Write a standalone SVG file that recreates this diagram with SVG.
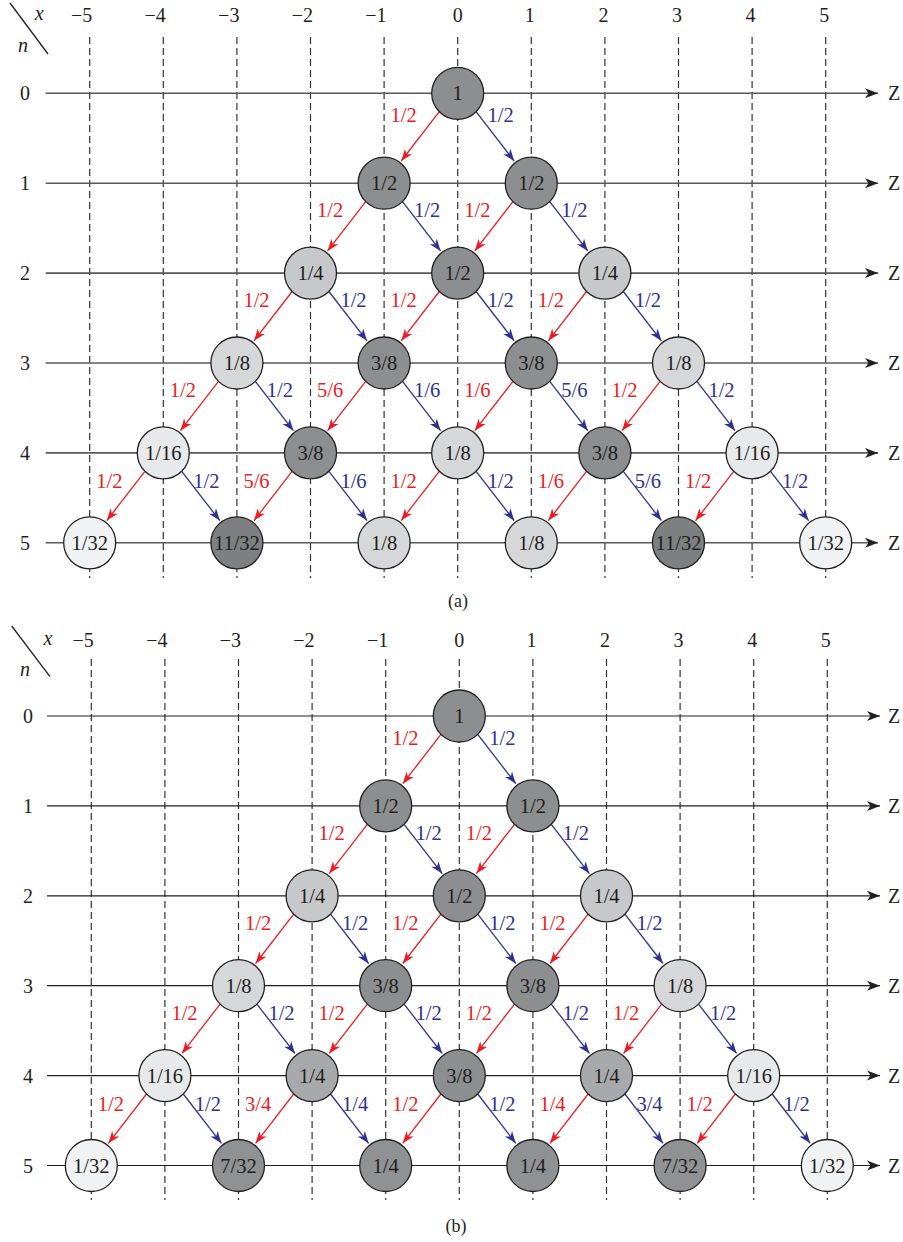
<svg xmlns="http://www.w3.org/2000/svg" xmlns:xlink="http://www.w3.org/1999/xlink" width="903" height="1242" viewBox="0 0 903 1242">
<defs>
<style>
text{font-family:"Liberation Serif","Times New Roman",serif;font-size:20.5px;fill:#231f20}
.ax{font-size:20px}
.ha{stroke:#58595b;stroke-width:1.6;marker-end:url(#mk)}
.hb{stroke:#231f20;stroke-width:1.2;marker-end:url(#mk)}
.dash{stroke:#333;stroke-width:1.2;stroke-dasharray:7 4}
.er{stroke:#ed1c24;stroke-width:1.3;marker-end:url(#mr)}
.eb{stroke:#2e3192;stroke-width:1.3;marker-end:url(#mb)}
.lr{fill:#ed1c24;text-anchor:middle}
.lb{fill:#2e3192;text-anchor:middle}
.m{text-anchor:middle}
.e{text-anchor:end}
.it{font-style:italic}
circle{stroke:#231f20;stroke-width:1.3}
.dk{fill:#8c8e90}.dk2{fill:#7d7f81}.dk3{fill:#8f9193}.md{fill:#a7a9ab}
.l1{fill:#c7c8ca}.l2{fill:#d6d7d8}.l3{fill:#e8e9ea}.l4{fill:#f1f2f3}
</style>
<marker id="mr" markerUnits="userSpaceOnUse" orient="auto" overflow="visible" markerWidth="1" markerHeight="1"><path d="M0,0 L-12,-4.5 L-8.5,0 L-12,4.5 z" fill="#ed1c24"/></marker>
<marker id="mb" markerUnits="userSpaceOnUse" orient="auto" overflow="visible" markerWidth="1" markerHeight="1"><path d="M0,0 L-12,-4.5 L-8.5,0 L-12,4.5 z" fill="#2e3192"/></marker>
<marker id="mk" markerUnits="userSpaceOnUse" orient="auto" overflow="visible" markerWidth="1" markerHeight="1"><path d="M0,0 L-13,-5 L-9.5,0 L-13,5 z" fill="#231f20"/></marker>
</defs>
<rect width="903" height="1242" fill="#fff"/>

<!-- ================= PANEL A ================= -->
<g id="panel-a" transform="translate(457.7,93.3)">
<g id="a-axes">
<line x1="-447.7" y1="-90.3" x2="-409.7" y2="-39.3" stroke="#231f20" stroke-width="1.3"/>
<text class="it m ax" x="-418.4" y="-73.8">x</text>
<text class="it m ax" x="-434.7" y="-41.8">n</text>
<text class="e ax" x="-365.5" y="-71.8">−5</text>
<text class="e ax" x="-291.9" y="-71.8">−4</text>
<text class="e ax" x="-218.3" y="-71.8">−3</text>
<text class="e ax" x="-144.7" y="-71.8">−2</text>
<text class="e ax" x="-71.1" y="-71.8">−1</text>
<text class="m ax" x="0" y="-71.8">0</text>
<text class="m ax" x="72.1" y="-71.8">1</text>
<text class="m ax" x="145.7" y="-71.8">2</text>
<text class="m ax" x="219.3" y="-71.8">3</text>
<text class="m ax" x="292.9" y="-71.8">4</text>
<text class="m ax" x="366.5" y="-71.8">5</text>
<line class="dash" x1="-368" y1="-56.3" x2="-368" y2="484.7"/>
<line class="dash" x1="-294.4" y1="-56.3" x2="-294.4" y2="484.7"/>
<line class="dash" x1="-220.8" y1="-56.3" x2="-220.8" y2="484.7"/>
<line class="dash" x1="-147.2" y1="-56.3" x2="-147.2" y2="484.7"/>
<line class="dash" x1="-73.6" y1="-56.3" x2="-73.6" y2="484.7"/>
<line class="dash" x1="0" y1="-56.3" x2="0" y2="484.7"/>
<line class="dash" x1="73.6" y1="-56.3" x2="73.6" y2="484.7"/>
<line class="dash" x1="147.2" y1="-56.3" x2="147.2" y2="484.7"/>
<line class="dash" x1="220.8" y1="-56.3" x2="220.8" y2="484.7"/>
<line class="dash" x1="294.4" y1="-56.3" x2="294.4" y2="484.7"/>
<line class="dash" x1="368" y1="-56.3" x2="368" y2="484.7"/>
<line class="ha" x1="-412" y1="0" x2="420.3" y2="0"/>
<line class="ha" x1="-412" y1="89.9" x2="420.3" y2="89.9"/>
<line class="ha" x1="-412" y1="179.8" x2="420.3" y2="179.8"/>
<line class="ha" x1="-412" y1="269.7" x2="420.3" y2="269.7"/>
<line class="ha" x1="-412" y1="359.6" x2="420.3" y2="359.6"/>
<line class="ha" x1="-412" y1="449.5" x2="420.3" y2="449.5"/>
<text class="m ax" x="-432.7" y="7">0</text>
<text class="m ax" x="-432.7" y="96.9">1</text>
<text class="m ax" x="-432.7" y="186.8">2</text>
<text class="m ax" x="-432.7" y="276.7">3</text>
<text class="m ax" x="-432.7" y="366.6">4</text>
<text class="m ax" x="-432.7" y="456.5">5</text>
<text class="ax" x="430.3" y="7">Z</text>
<text class="ax" x="430.3" y="96.9">Z</text>
<text class="ax" x="430.3" y="186.8">Z</text>
<text class="ax" x="430.3" y="276.7">Z</text>
<text class="ax" x="430.3" y="366.6">Z</text>
<text class="ax" x="430.3" y="456.5">Z</text>
</g>
<g id="a-connectors">
<line class="er" x1="-18.4" y1="18.4" x2="-56.5" y2="67.7"/><line class="eb" x1="18.4" y1="18.4" x2="56.5" y2="67.7"/>
<line class="er" x1="-92" y1="108.3" x2="-130.1" y2="157.6"/><line class="eb" x1="-55.2" y1="108.3" x2="-17.1" y2="157.6"/>
<line class="er" x1="55.2" y1="108.3" x2="17.1" y2="157.6"/><line class="eb" x1="92" y1="108.3" x2="130.1" y2="157.6"/>
<line class="er" x1="-165.6" y1="198.2" x2="-203.7" y2="247.5"/><line class="eb" x1="-128.8" y1="198.2" x2="-90.7" y2="247.5"/>
<line class="er" x1="-18.4" y1="198.2" x2="-56.5" y2="247.5"/><line class="eb" x1="18.4" y1="198.2" x2="56.5" y2="247.5"/>
<line class="er" x1="128.8" y1="198.2" x2="90.7" y2="247.5"/><line class="eb" x1="165.6" y1="198.2" x2="203.7" y2="247.5"/>
<line class="er" x1="-239.2" y1="288.1" x2="-277.3" y2="337.4"/><line class="eb" x1="-202.4" y1="288.1" x2="-164.3" y2="337.4"/>
<line class="er" x1="-92" y1="288.1" x2="-130.1" y2="337.4"/><line class="eb" x1="-55.2" y1="288.1" x2="-17.1" y2="337.4"/>
<line class="er" x1="55.2" y1="288.1" x2="17.1" y2="337.4"/><line class="eb" x1="92" y1="288.1" x2="130.1" y2="337.4"/>
<line class="er" x1="202.4" y1="288.1" x2="164.3" y2="337.4"/><line class="eb" x1="239.2" y1="288.1" x2="277.3" y2="337.4"/>
<line class="er" x1="-312.8" y1="378" x2="-350.9" y2="427.3"/><line class="eb" x1="-276" y1="378" x2="-237.9" y2="427.3"/>
<line class="er" x1="-165.6" y1="378" x2="-203.7" y2="427.3"/><line class="eb" x1="-128.8" y1="378" x2="-90.7" y2="427.3"/>
<line class="er" x1="-18.4" y1="378" x2="-56.5" y2="427.3"/><line class="eb" x1="18.4" y1="378" x2="56.5" y2="427.3"/>
<line class="er" x1="128.8" y1="378" x2="90.7" y2="427.3"/><line class="eb" x1="165.6" y1="378" x2="203.7" y2="427.3"/>
<line class="er" x1="276" y1="378" x2="237.9" y2="427.3"/><line class="eb" x1="312.8" y1="378" x2="350.9" y2="427.3"/>
<text class="lr" x="-54" y="29">1/2</text><text class="lb" x="43" y="29">1/2</text>
<text class="lr" x="-127.6" y="123.9">1/2</text><text class="lb" x="-30.6" y="123.9">1/2</text>
<text class="lr" x="19.6" y="123.9">1/2</text><text class="lb" x="116.6" y="123.9">1/2</text>
<text class="lr" x="-201.2" y="213.8">1/2</text><text class="lb" x="-104.2" y="213.8">1/2</text>
<text class="lr" x="-54" y="213.8">1/2</text><text class="lb" x="43" y="213.8">1/2</text>
<text class="lr" x="93.2" y="213.8">1/2</text><text class="lb" x="190.2" y="213.8">1/2</text>
<text class="lr" x="-274.8" y="303.7">1/2</text><text class="lb" x="-177.8" y="303.7">1/2</text>
<text class="lr" x="-127.6" y="303.7">5/6</text><text class="lb" x="-30.6" y="303.7">1/6</text>
<text class="lr" x="19.6" y="303.7">1/6</text><text class="lb" x="116.6" y="303.7">5/6</text>
<text class="lr" x="166.8" y="303.7">1/2</text><text class="lb" x="263.8" y="303.7">1/2</text>
<text class="lr" x="-348.4" y="394.6">1/2</text><text class="lb" x="-251.4" y="394.6">1/2</text>
<text class="lr" x="-201.2" y="394.6">5/6</text><text class="lb" x="-104.2" y="394.6">1/6</text>
<text class="lr" x="-54" y="394.6">1/2</text><text class="lb" x="43" y="394.6">1/2</text>
<text class="lr" x="93.2" y="394.6">1/6</text><text class="lb" x="190.2" y="394.6">5/6</text>
<text class="lr" x="240.4" y="394.6">1/2</text><text class="lb" x="337.4" y="394.6">1/2</text>
</g>
<g id="a-n0-0"><circle cx="0" cy="0" r="26" class="dk"/><text class="m" x="0" y="7">1</text></g>
<g id="a-n1-m1"><circle cx="-73.6" cy="89.9" r="26" class="dk"/><text class="m" x="-73.6" y="96.9">1/2</text></g>
<g id="a-n1-p1"><circle cx="73.6" cy="89.9" r="26" class="dk"/><text class="m" x="73.6" y="96.9">1/2</text></g>
<g id="a-n2-m2"><circle cx="-147.2" cy="179.8" r="26" class="l1"/><text class="m" x="-147.2" y="186.8">1/4</text></g>
<g id="a-n2-0"><circle cx="0" cy="179.8" r="26" class="dk"/><text class="m" x="0" y="186.8">1/2</text></g>
<g id="a-n2-p2"><circle cx="147.2" cy="179.8" r="26" class="l1"/><text class="m" x="147.2" y="186.8">1/4</text></g>
<g id="a-n3-m3"><circle cx="-220.8" cy="269.7" r="26" class="l2"/><text class="m" x="-220.8" y="276.7">1/8</text></g>
<g id="a-n3-m1"><circle cx="-73.6" cy="269.7" r="26" class="dk"/><text class="m" x="-73.6" y="276.7">3/8</text></g>
<g id="a-n3-p1"><circle cx="73.6" cy="269.7" r="26" class="dk"/><text class="m" x="73.6" y="276.7">3/8</text></g>
<g id="a-n3-p3"><circle cx="220.8" cy="269.7" r="26" class="l2"/><text class="m" x="220.8" y="276.7">1/8</text></g>
<g id="a-n4-m4"><circle cx="-294.4" cy="359.6" r="26" class="l3"/><text class="m" x="-294.4" y="366.6">1/16</text></g>
<g id="a-n4-m2"><circle cx="-147.2" cy="359.6" r="26" class="dk"/><text class="m" x="-147.2" y="366.6">3/8</text></g>
<g id="a-n4-0"><circle cx="0" cy="359.6" r="26" class="l2"/><text class="m" x="0" y="366.6">1/8</text></g>
<g id="a-n4-p2"><circle cx="147.2" cy="359.6" r="26" class="dk"/><text class="m" x="147.2" y="366.6">3/8</text></g>
<g id="a-n4-p4"><circle cx="294.4" cy="359.6" r="26" class="l3"/><text class="m" x="294.4" y="366.6">1/16</text></g>
<g id="a-n5-m5"><circle cx="-368" cy="449.5" r="26" class="l4"/><text class="m" x="-368" y="456.5">1/32</text></g>
<g id="a-n5-m3"><circle cx="-220.8" cy="449.5" r="26" class="dk2"/><text class="m" x="-220.8" y="456.5">11/32</text></g>
<g id="a-n5-m1"><circle cx="-73.6" cy="449.5" r="26" class="l2"/><text class="m" x="-73.6" y="456.5">1/8</text></g>
<g id="a-n5-p1"><circle cx="73.6" cy="449.5" r="26" class="l2"/><text class="m" x="73.6" y="456.5">1/8</text></g>
<g id="a-n5-p3"><circle cx="220.8" cy="449.5" r="26" class="dk2"/><text class="m" x="220.8" y="456.5">11/32</text></g>
<g id="a-n5-p5"><circle cx="368" cy="449.5" r="26" class="l4"/><text class="m" x="368" y="456.5">1/32</text></g>
</g>
<text class="m" x="458" y="607" style="font-size:18px">(a)</text>

<!-- ================= PANEL B ================= -->
<g id="panel-b" transform="translate(459.3,716)">
<g id="b-axes">
<line x1="-447.6" y1="-90" x2="-409.3" y2="-39.3" stroke="#231f20" stroke-width="1.3"/>
<text class="it m ax" x="-411.3" y="-71.5">x</text>
<text class="it m ax" x="-434.3" y="-40">n</text>
<text class="e ax" x="-365.5" y="-69">−5</text>
<text class="e ax" x="-291.9" y="-69">−4</text>
<text class="e ax" x="-218.3" y="-69">−3</text>
<text class="e ax" x="-144.7" y="-69">−2</text>
<text class="e ax" x="-71.1" y="-69">−1</text>
<text class="m ax" x="0" y="-69">0</text>
<text class="m ax" x="72.1" y="-69">1</text>
<text class="m ax" x="145.7" y="-69">2</text>
<text class="m ax" x="219.3" y="-69">3</text>
<text class="m ax" x="292.9" y="-69">4</text>
<text class="m ax" x="366.5" y="-69">5</text>
<line class="dash" x1="-368" y1="-57" x2="-368" y2="484"/>
<line class="dash" x1="-294.4" y1="-57" x2="-294.4" y2="484"/>
<line class="dash" x1="-220.8" y1="-57" x2="-220.8" y2="484"/>
<line class="dash" x1="-147.2" y1="-57" x2="-147.2" y2="484"/>
<line class="dash" x1="-73.6" y1="-57" x2="-73.6" y2="484"/>
<line class="dash" x1="0" y1="-57" x2="0" y2="484"/>
<line class="dash" x1="73.6" y1="-57" x2="73.6" y2="484"/>
<line class="dash" x1="147.2" y1="-57" x2="147.2" y2="484"/>
<line class="dash" x1="220.8" y1="-57" x2="220.8" y2="484"/>
<line class="dash" x1="294.4" y1="-57" x2="294.4" y2="484"/>
<line class="dash" x1="368" y1="-57" x2="368" y2="484"/>
<line class="hb" x1="-412.3" y1="0" x2="420.7" y2="0"/>
<line class="hb" x1="-412.3" y1="89.9" x2="420.7" y2="89.9"/>
<line class="hb" x1="-412.3" y1="179.8" x2="420.7" y2="179.8"/>
<line class="hb" x1="-412.3" y1="269.7" x2="420.7" y2="269.7"/>
<line class="hb" x1="-412.3" y1="359.6" x2="420.7" y2="359.6"/>
<line class="hb" x1="-412.3" y1="449.5" x2="420.7" y2="449.5"/>
<text class="m ax" x="-431.3" y="7">0</text>
<text class="m ax" x="-431.3" y="96.9">1</text>
<text class="m ax" x="-431.3" y="186.8">2</text>
<text class="m ax" x="-431.3" y="276.7">3</text>
<text class="m ax" x="-431.3" y="366.6">4</text>
<text class="m ax" x="-431.3" y="456.5">5</text>
<text class="ax" x="428.7" y="7">Z</text>
<text class="ax" x="428.7" y="96.9">Z</text>
<text class="ax" x="428.7" y="186.8">Z</text>
<text class="ax" x="428.7" y="276.7">Z</text>
<text class="ax" x="428.7" y="366.6">Z</text>
<text class="ax" x="428.7" y="456.5">Z</text>
</g>
<g id="b-connectors">
<line class="er" x1="-18.4" y1="18.4" x2="-56.5" y2="67.7"/><line class="eb" x1="18.4" y1="18.4" x2="56.5" y2="67.7"/>
<line class="er" x1="-92" y1="108.3" x2="-130.1" y2="157.6"/><line class="eb" x1="-55.2" y1="108.3" x2="-17.1" y2="157.6"/>
<line class="er" x1="55.2" y1="108.3" x2="17.1" y2="157.6"/><line class="eb" x1="92" y1="108.3" x2="130.1" y2="157.6"/>
<line class="er" x1="-165.6" y1="198.2" x2="-203.7" y2="247.5"/><line class="eb" x1="-128.8" y1="198.2" x2="-90.7" y2="247.5"/>
<line class="er" x1="-18.4" y1="198.2" x2="-56.5" y2="247.5"/><line class="eb" x1="18.4" y1="198.2" x2="56.5" y2="247.5"/>
<line class="er" x1="128.8" y1="198.2" x2="90.7" y2="247.5"/><line class="eb" x1="165.6" y1="198.2" x2="203.7" y2="247.5"/>
<line class="er" x1="-239.2" y1="288.1" x2="-277.3" y2="337.4"/><line class="eb" x1="-202.4" y1="288.1" x2="-164.3" y2="337.4"/>
<line class="er" x1="-92" y1="288.1" x2="-130.1" y2="337.4"/><line class="eb" x1="-55.2" y1="288.1" x2="-17.1" y2="337.4"/>
<line class="er" x1="55.2" y1="288.1" x2="17.1" y2="337.4"/><line class="eb" x1="92" y1="288.1" x2="130.1" y2="337.4"/>
<line class="er" x1="202.4" y1="288.1" x2="164.3" y2="337.4"/><line class="eb" x1="239.2" y1="288.1" x2="277.3" y2="337.4"/>
<line class="er" x1="-312.8" y1="378" x2="-350.9" y2="427.3"/><line class="eb" x1="-276" y1="378" x2="-237.9" y2="427.3"/>
<line class="er" x1="-165.6" y1="378" x2="-203.7" y2="427.3"/><line class="eb" x1="-128.8" y1="378" x2="-90.7" y2="427.3"/>
<line class="er" x1="-18.4" y1="378" x2="-56.5" y2="427.3"/><line class="eb" x1="18.4" y1="378" x2="56.5" y2="427.3"/>
<line class="er" x1="128.8" y1="378" x2="90.7" y2="427.3"/><line class="eb" x1="165.6" y1="378" x2="203.7" y2="427.3"/>
<line class="er" x1="276" y1="378" x2="237.9" y2="427.3"/><line class="eb" x1="312.8" y1="378" x2="350.9" y2="427.3"/>
<text class="lr" x="-54" y="29">1/2</text><text class="lb" x="43" y="29">1/2</text>
<text class="lr" x="-127.6" y="123.9">1/2</text><text class="lb" x="-30.6" y="123.9">1/2</text>
<text class="lr" x="19.6" y="123.9">1/2</text><text class="lb" x="116.6" y="123.9">1/2</text>
<text class="lr" x="-201.2" y="213.8">1/2</text><text class="lb" x="-104.2" y="213.8">1/2</text>
<text class="lr" x="-54" y="213.8">1/2</text><text class="lb" x="43" y="213.8">1/2</text>
<text class="lr" x="93.2" y="213.8">1/2</text><text class="lb" x="190.2" y="213.8">1/2</text>
<text class="lr" x="-274.8" y="303.7">1/2</text><text class="lb" x="-177.8" y="303.7">1/2</text>
<text class="lr" x="-127.6" y="303.7">1/2</text><text class="lb" x="-30.6" y="303.7">1/2</text>
<text class="lr" x="19.6" y="303.7">1/2</text><text class="lb" x="116.6" y="303.7">1/2</text>
<text class="lr" x="166.8" y="303.7">1/2</text><text class="lb" x="263.8" y="303.7">1/2</text>
<text class="lr" x="-348.4" y="394.6">1/2</text><text class="lb" x="-251.4" y="394.6">1/2</text>
<text class="lr" x="-201.2" y="394.6">3/4</text><text class="lb" x="-104.2" y="394.6">1/4</text>
<text class="lr" x="-54" y="394.6">1/2</text><text class="lb" x="43" y="394.6">1/2</text>
<text class="lr" x="93.2" y="394.6">1/4</text><text class="lb" x="190.2" y="394.6">3/4</text>
<text class="lr" x="240.4" y="394.6">1/2</text><text class="lb" x="337.4" y="394.6">1/2</text>
</g>
<g id="b-n0-0"><circle cx="0" cy="0" r="26" class="dk"/><text class="m" x="0" y="7">1</text></g>
<g id="b-n1-m1"><circle cx="-73.6" cy="89.9" r="26" class="dk"/><text class="m" x="-73.6" y="96.9">1/2</text></g>
<g id="b-n1-p1"><circle cx="73.6" cy="89.9" r="26" class="dk"/><text class="m" x="73.6" y="96.9">1/2</text></g>
<g id="b-n2-m2"><circle cx="-147.2" cy="179.8" r="26" class="l1"/><text class="m" x="-147.2" y="186.8">1/4</text></g>
<g id="b-n2-0"><circle cx="0" cy="179.8" r="26" class="dk"/><text class="m" x="0" y="186.8">1/2</text></g>
<g id="b-n2-p2"><circle cx="147.2" cy="179.8" r="26" class="l1"/><text class="m" x="147.2" y="186.8">1/4</text></g>
<g id="b-n3-m3"><circle cx="-220.8" cy="269.7" r="26" class="l2"/><text class="m" x="-220.8" y="276.7">1/8</text></g>
<g id="b-n3-m1"><circle cx="-73.6" cy="269.7" r="26" class="dk"/><text class="m" x="-73.6" y="276.7">3/8</text></g>
<g id="b-n3-p1"><circle cx="73.6" cy="269.7" r="26" class="dk"/><text class="m" x="73.6" y="276.7">3/8</text></g>
<g id="b-n3-p3"><circle cx="220.8" cy="269.7" r="26" class="l2"/><text class="m" x="220.8" y="276.7">1/8</text></g>
<g id="b-n4-m4"><circle cx="-294.4" cy="359.6" r="26" class="l3"/><text class="m" x="-294.4" y="366.6">1/16</text></g>
<g id="b-n4-m2"><circle cx="-147.2" cy="359.6" r="26" class="md"/><text class="m" x="-147.2" y="366.6">1/4</text></g>
<g id="b-n4-0"><circle cx="0" cy="359.6" r="26" class="dk"/><text class="m" x="0" y="366.6">3/8</text></g>
<g id="b-n4-p2"><circle cx="147.2" cy="359.6" r="26" class="md"/><text class="m" x="147.2" y="366.6">1/4</text></g>
<g id="b-n4-p4"><circle cx="294.4" cy="359.6" r="26" class="l3"/><text class="m" x="294.4" y="366.6">1/16</text></g>
<g id="b-n5-m5"><circle cx="-368" cy="449.5" r="26" class="l4"/><text class="m" x="-368" y="456.5">1/32</text></g>
<g id="b-n5-m3"><circle cx="-220.8" cy="449.5" r="26" class="dk3"/><text class="m" x="-220.8" y="456.5">7/32</text></g>
<g id="b-n5-m1"><circle cx="-73.6" cy="449.5" r="26" class="dk3"/><text class="m" x="-73.6" y="456.5">1/4</text></g>
<g id="b-n5-p1"><circle cx="73.6" cy="449.5" r="26" class="dk3"/><text class="m" x="73.6" y="456.5">1/4</text></g>
<g id="b-n5-p3"><circle cx="220.8" cy="449.5" r="26" class="dk3"/><text class="m" x="220.8" y="456.5">7/32</text></g>
<g id="b-n5-p5"><circle cx="368" cy="449.5" r="26" class="l4"/><text class="m" x="368" y="456.5">1/32</text></g>
</g>
<text class="m" x="456" y="1232" style="font-size:18px">(b)</text>
</svg>
